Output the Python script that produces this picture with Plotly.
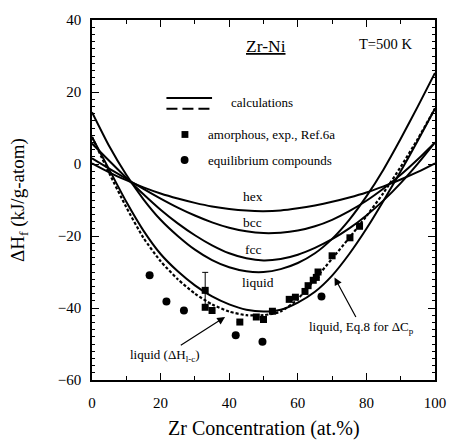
import plotly.graph_objects as go

# ---------------- data ----------------
zr_pct = [0, 5, 10, 15, 20, 25, 30, 35, 40, 45, 50, 55, 60, 65, 70, 75, 80, 85, 90, 95, 100]

hex_dh = [0.2, -2.3, -4.5, -6.5, -8.2, -9.6, -10.8, -11.8, -12.5, -12.95, -13.1, -12.9,
          -12.3, -11.5, -10.5, -9.3, -7.9, -6.2, -4.3, -2.2, 0.2]
bcc_dh = [1.6, -1.3, -4.1, -6.9, -9.6, -12.1, -14.3, -16.2, -17.7, -18.7, -19.2, -19.1,
          -18.5, -17.3, -15.5, -13.1, -10.2, -6.8, -3.0, 1.3, 6.0]
fcc_dh = [5.7, 0.9, -3.8, -8.4, -12.7, -16.5, -19.8, -22.6, -24.8, -26.2, -26.8, -26.4,
          -25.2, -23.3, -20.9, -17.9, -14.3, -10.1, -5.3, 0.1, 6.0]
liquid_dh = [14.4, 5.0, -3.0, -9.8, -15.5, -20.0, -23.8, -26.7, -28.7, -29.8, -30.0,
             -29.2, -27.5, -24.8, -20.8, -15.5, -9.0, -1.5, 7.0, 16.0, 25.3]
liquid_eq8_dh = [7.5, -1.5, -10.5, -18.5, -25.0, -29.8, -33.7, -36.8, -39.0, -40.5, -41.0,
                 -40.5, -38.5, -35.5, -31.0, -25.0, -18.0, -10.2, -2.0, 6.5, 15.4]
liquid_lc_dh = [7.5, -2.5, -12.0, -20.5, -27.0, -32.0, -36.0, -39.0, -41.0, -42.0, -42.0,
                -41.0, -37.5, -32.0, -26.3, -20.5, -14.5, -8.0, -0.8, 7.0, 15.4]

amorph_x = [33.0, 33.0, 35.0, 43.1, 47.9, 50.0, 52.6, 57.5, 59.3, 62.1, 63.0, 64.5,
            65.4, 65.9, 70.0, 75.2, 78.0]
amorph_dh = [-35.1, -39.8, -40.7, -43.9, -42.5, -43.2, -40.9, -37.6, -37.0, -35.4, -33.8,
             -32.3, -31.5, -30.0, -25.5, -20.5, -17.3]
amorph_err = [5.0, 0, 0, 0, 0, 0, 0, 0, 0, 0, 0, 0, 0, 0, 0, 0, 0]

compound_x = [16.8, 21.7, 26.8, 41.9, 49.7, 66.9]
compound_dh = [-30.9, -38.2, -40.7, -47.6, -49.4, -36.8]

x_ticks = [0, 20, 40, 60, 80, 100]
y_ticks = [-60, -40, -20, 0, 20, 40]

FONT = "Liberation Serif"
BLACK = "black"

fig = go.Figure()

for ys in [hex_dh, bcc_dh, fcc_dh, liquid_dh, liquid_eq8_dh]:
    fig.add_trace(go.Scatter(x=zr_pct, y=ys, mode="lines",
                             line=dict(color=BLACK, width=2, shape="spline", smoothing=0.6),
                             showlegend=False, hoverinfo="skip"))

fig.add_trace(go.Scatter(x=zr_pct, y=liquid_lc_dh, mode="lines",
                         line=dict(color=BLACK, width=2.2, dash="3px,2px",
                                   shape="spline", smoothing=0.6),
                         showlegend=False, hoverinfo="skip"))

fig.add_trace(go.Scatter(x=amorph_x, y=amorph_dh, mode="markers",
                         marker=dict(symbol="square", size=7, color=BLACK),
                         error_y=dict(type="data", array=amorph_err, visible=True,
                                      color=BLACK, thickness=1, width=3),
                         showlegend=False, hoverinfo="skip"))

fig.add_trace(go.Scatter(x=compound_x, y=compound_dh, mode="markers",
                         marker=dict(symbol="circle", size=8, color=BLACK),
                         showlegend=False, hoverinfo="skip"))

# ---------------- legend drawn as shapes + text ----------------
fig.add_shape(type="line", x0=21.7, x1=35.0, y0=18.3, y1=18.3, xref="x", yref="y",
              line=dict(color=BLACK, width=2))
fig.add_shape(type="line", x0=21.7, x1=35.5, y0=15.35, y1=15.35, xref="x", yref="y",
              line=dict(color=BLACK, width=2, dash="11px,5px"))
fig.add_shape(type="rect", x0=26.1, x1=28.1, y0=7.25, y1=9.15, xref="x", yref="y",
              line=dict(width=0), fillcolor=BLACK)
fig.add_shape(type="circle", x0=25.85, x1=28.15, y0=0.0, y1=2.2, xref="x", yref="y",
              line=dict(width=0), fillcolor=BLACK)

def txt(x, y, s, size=13, xanchor="center"):
    fig.add_annotation(x=x, y=y, xref="x", yref="y", text=s, showarrow=False,
                       xanchor=xanchor, yanchor="middle",
                       font=dict(family=FONT, size=size, color=BLACK))

txt(39.8, 17.2, "calculations", 13, "left")
txt(33.1, 8.2, "amorphous, exp., Ref.6a", 13, "left")
txt(33.1, 1.1, "equilibrium compounds", 13, "left")

txt(50.7, 32.9, "<u>Zr-Ni</u>", 17.5)
txt(85.5, 33.2, "T=500 K", 14.5)

txt(46.9, -9.0, "hex", 13.5)
txt(46.9, -16.35, "bcc", 13.5)
txt(46.9, -23.7, "fcc", 13.5)
txt(48.3, -32.9, "liquid", 13.5)

# labels with arrows (text sits at the arrow tail)
fig.add_annotation(x=38.8, y=-42.5, ax=21.3, ay=-53.1, xref="x", yref="y",
                   axref="x", ayref="y", text="liquid (ΔH<sub>l-c</sub>)",
                   showarrow=True, arrowhead=2, arrowsize=1.3, arrowwidth=1.2,
                   arrowcolor=BLACK, font=dict(family=FONT, size=13, color=BLACK))
fig.add_annotation(x=70.7, y=-31.5, ax=78.5, ay=-45.3, xref="x", yref="y",
                   axref="x", ayref="y", text="liquid, Eq.8 for ΔC<sub>p</sub>",
                   showarrow=True, arrowhead=2, arrowsize=1.3, arrowwidth=1.2,
                   arrowcolor=BLACK, font=dict(family=FONT, size=13, color=BLACK))

# axis titles
fig.add_annotation(x=0.5, y=0, xref="paper", yref="paper", yshift=-48,
                   text="Zr Concentration (at.%)", showarrow=False,
                   xanchor="center", yanchor="middle",
                   font=dict(family=FONT, size=20, color=BLACK))
fig.add_annotation(x=0, y=0.5, xref="paper", yref="paper", xshift=-73,
                   text="ΔH<sub>f</sub> (kJ/g-atom)", showarrow=False, textangle=-90,
                   xanchor="center", yanchor="middle",
                   font=dict(family=FONT, size=19, color=BLACK))

fig.update_layout(
    width=458, height=444,
    margin=dict(l=92, r=15, t=17, b=64),
    paper_bgcolor="white", plot_bgcolor="white",
    showlegend=False,
    font=dict(family=FONT, color=BLACK),
)
fig.update_xaxes(range=[0, 100], tickvals=x_ticks, ticks="inside", ticklen=7,
                 tickwidth=1.2, tickcolor=BLACK, showline=True, linecolor=BLACK,
                 linewidth=1.5, mirror="allticks", showgrid=False, zeroline=False,
                 tickfont=dict(family=FONT, size=15, color=BLACK), ticklabelstandoff=8,
                 minor=dict(dtick=10, ticks="inside", ticklen=4, tickcolor=BLACK,
                            tickwidth=1, showgrid=False))
fig.update_yaxes(range=[-60, 40], tickvals=y_ticks, ticks="inside",
                 ticklen=7, tickwidth=1.2, tickcolor=BLACK, showline=True,
                 linecolor=BLACK, linewidth=1.5, mirror="allticks", showgrid=False,
                 zeroline=False, tickfont=dict(family=FONT, size=15, color=BLACK),
                 ticklabelstandoff=6,
                 minor=dict(dtick=2, ticks="inside", ticklen=3, tickcolor=BLACK,
                            tickwidth=1, showgrid=False))

fig.write_html("out.html")
